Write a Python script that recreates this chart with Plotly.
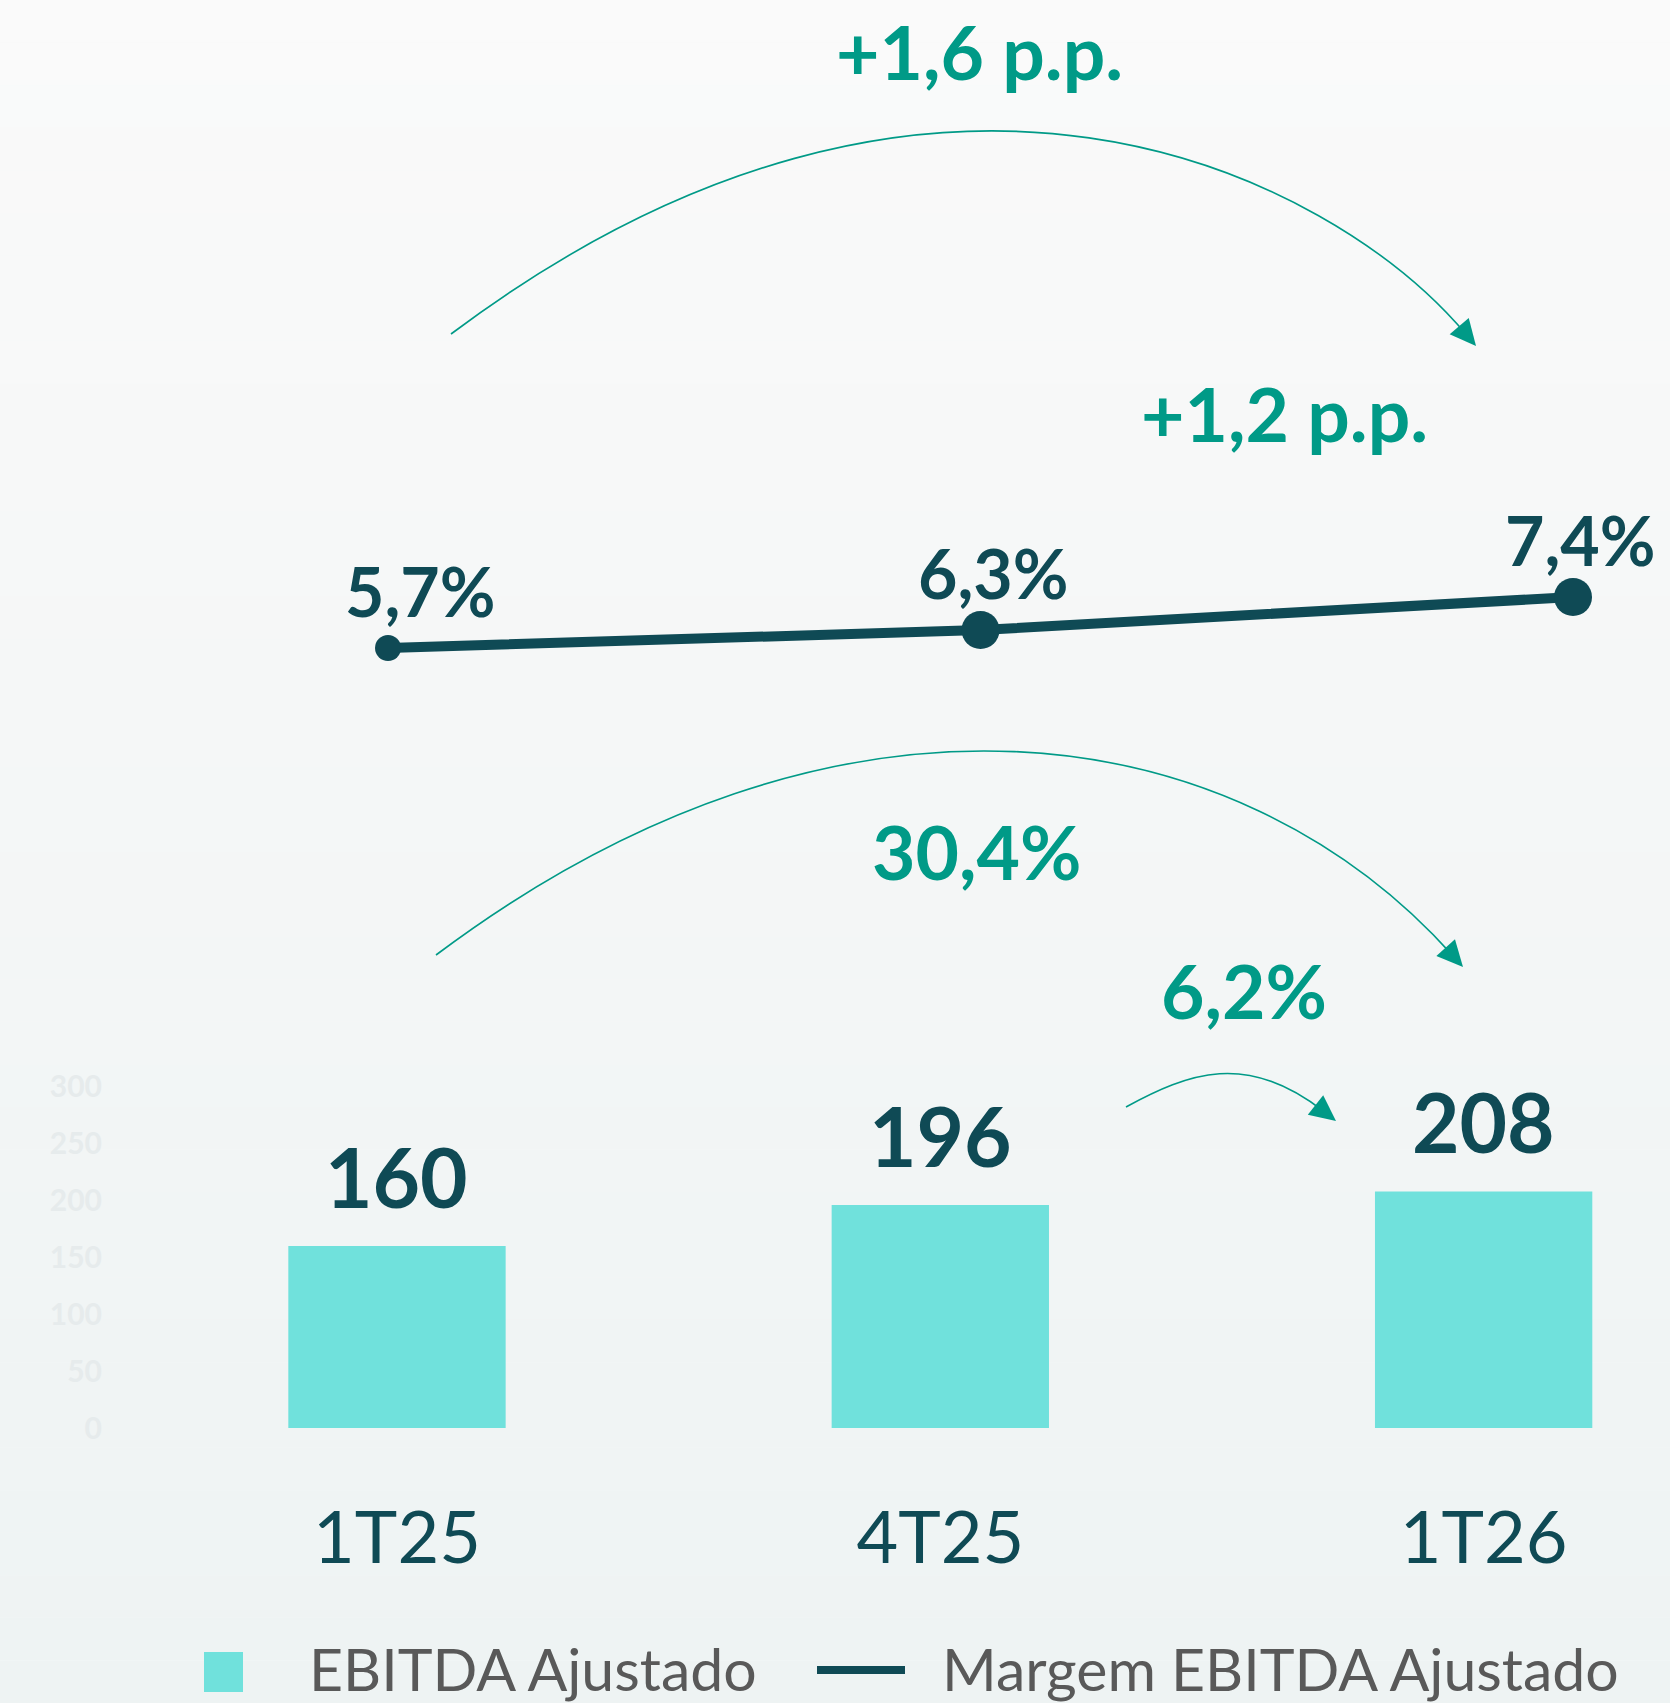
import numpy as np
import plotly.graph_objects as go

W, H = 1670, 1703

# data
trimestres = ["1T25", "4T25", "1T26"]
ebitda_ajustado = [160, 196, 208]
margem_ebitda = [5.7, 6.3, 7.4]
margem_labels = ["5,7%", "6,3%", "7,4%"]
ebitda_ticks = [0, 50, 100, 150, 200, 250, 300]
variacao_margem_1t = "+1,6 p.p."
variacao_margem_4t = "+1,2 p.p."
variacao_ebitda_1t = "30,4%"
variacao_ebitda_4t = "6,2%"
legend_labels = ["EBITDA Ajustado", "Margem EBITDA Ajustado"]

DARK = "#0f4a55"
GREEN = "#009a87"
BAR = "#70e1dc"
GREY = "#595959"
FONT = "Lato"


def px(x):
    return x / W


def py(y):
    return 1 - y / H


def pt(p):
    return f"{px(p[0]):.5f},{py(p[1]):.5f}"


def arc_shapes(p0, p3, d0, d3, peak, head_len=26, head_w=25):
    # cubic curve leaving p0 along d0, arriving at p3 along d3, whose top lands near `peak`
    p0, p3, peak = np.array(p0, float), np.array(p3, float), np.array(peak, float)
    d0 = np.array(d0, float) / np.linalg.norm(d0)
    d3 = np.array(d3, float) / np.linalg.norm(d3)
    span = np.linalg.norm(p3 - p0)
    a = np.linspace(0.05, 1.2, 116)[:, None, None] * span
    b = np.linspace(0.05, 1.2, 116)[None, :, None] * span
    t = np.linspace(0, 1, 201)[None, None, :]
    coords = []
    for k in range(2):
        c1 = p0[k] + a * d0[k]
        c2 = p3[k] - b * d3[k]
        coords.append((1 - t) ** 3 * p0[k] + 3 * t * (1 - t) ** 2 * c1
                      + 3 * t ** 2 * (1 - t) * c2 + t ** 3 * p3[k])
    x, y = coords
    idx = np.argmin(y, axis=2)[..., None]
    top_x = np.take_along_axis(x, idx, axis=2)[..., 0]
    top_y = np.take_along_axis(y, idx, axis=2)[..., 0]
    err = (top_x - peak[0]) ** 2 + (top_y - peak[1]) ** 2
    i, j = np.unravel_index(np.argmin(err), err.shape)
    c1 = p0 + a[i, 0, 0] * d0
    c2 = p3 - b[0, j, 0] * d3
    curve = dict(type="path", xref="paper", yref="paper",
                 path=f"M{pt(p0)} C{pt(c1)} {pt(c2)} {pt(p3 - d3 * head_len * 0.6)}",
                 line=dict(color=GREEN, width=1.6))
    base = p3 - d3 * head_len
    n = np.array([-d3[1], d3[0]])
    head = dict(type="path", xref="paper", yref="paper",
                path=f"M{pt(p3)} L{pt(base + n * head_w / 2)} L{pt(base - n * head_w / 2)} Z",
                fillcolor=GREEN, line=dict(width=0))
    return [curve, head]


fig = go.Figure()

fig.add_trace(go.Bar(
    x=trimestres, y=ebitda_ajustado, name=legend_labels[0],
    marker=dict(color=BAR, line=dict(width=0)), width=0.4,
    xaxis="x", yaxis="y", showlegend=False,
))

fig.add_trace(go.Scatter(
    x=trimestres, y=margem_ebitda, name=legend_labels[1],
    mode="lines+markers", line=dict(color=DARK, width=10),
    marker=dict(color=DARK, size=[26, 38, 38], opacity=1, line=dict(width=0)),
    xaxis="x2", yaxis="y2", showlegend=False,
))

annotations = []
for cat, v in zip(trimestres, ebitda_ajustado):
    annotations.append(dict(
        x=cat, y=v, xref="x", yref="y", text=str(v), showarrow=False,
        yanchor="middle", yshift=70,
        font=dict(family=FONT, size=82, color=DARK, weight=700),
    ))

for cat, v, lab, dx in zip(trimestres, margem_ebitda, margem_labels, [32, 13, 7]):
    annotations.append(dict(
        x=cat, y=v, xref="x2", yref="y2", text=lab, showarrow=False,
        yanchor="middle", yshift=58, xshift=dx,
        font=dict(family=FONT, size=68, color=DARK, weight=700),
    ))

for txt, (x, y) in [(variacao_margem_1t, (980, 51)), (variacao_margem_4t, (1284, 413)),
                    (variacao_ebitda_1t, (977, 851)), (variacao_ebitda_4t, (1244, 990))]:
    annotations.append(dict(
        x=px(x), y=py(y), xref="paper", yref="paper", text=txt, showarrow=False,
        xanchor="center", yanchor="middle",
        font=dict(family=FONT, size=75, color=GREEN, weight=700),
    ))

# legend (drawn by hand to get the large symbols)
annotations.append(dict(x=px(307), y=py(1668), xref="paper", yref="paper", text=legend_labels[0],
                        showarrow=False, xanchor="left", yanchor="middle",
                        font=dict(family=FONT, size=59, color=GREY)))
annotations.append(dict(x=px(940), y=py(1668), xref="paper", yref="paper", text=legend_labels[1],
                        showarrow=False, xanchor="left", yanchor="middle",
                        font=dict(family=FONT, size=59, color=GREY)))

shapes = []
# soft vertical background gradient
top, bottom = np.array([250, 250, 250]), np.array([238, 243, 243])
n_bands = 40
for i in range(n_bands):
    c = top + (bottom - top) * i / (n_bands - 1)
    shapes.append(dict(type="rect", xref="paper", yref="paper", layer="below",
                       x0=0, x1=1, y0=1 - (i + 1) / n_bands, y1=1 - i / n_bands,
                       fillcolor=f"rgb({c[0]:.0f},{c[1]:.0f},{c[2]:.0f})", line=dict(width=0)))

shapes += arc_shapes((451, 334), (1476, 346), (0.8, -0.6), (16.5, 19.5), (991, 131))
shapes += arc_shapes((436, 955), (1463, 967), (0.8, -0.6), (17, 19), (977, 752))
shapes += arc_shapes((1126, 1107), (1336, 1121), (0.879, -0.477), (20.5, 16), (1225, 1075))

shapes.append(dict(type="rect", xref="paper", yref="paper",
                   x0=px(204), x1=px(243), y0=py(1692), y1=py(1652),
                   fillcolor=BAR, line=dict(width=0)))
shapes.append(dict(type="line", xref="paper", yref="paper",
                   x0=px(817), x1=px(905), y0=py(1670), y1=py(1670),
                   line=dict(color=DARK, width=8)))

fig.update_layout(
    width=W, height=H, autosize=False,
    margin=dict(l=0, r=0, t=0, b=0, pad=0),
    paper_bgcolor="#f6f8f8", plot_bgcolor="rgba(0,0,0,0)",
    font=dict(family=FONT, color=DARK),
    showlegend=False,
    annotations=annotations, shapes=shapes,
    xaxis=dict(domain=[px(115), 1], type="category", range=[-0.519, 2.343],
               showgrid=False, zeroline=False, showline=False, ticks="", automargin=False,
               tickfont=dict(family=FONT, size=72, color=DARK), ticklabelstandoff=62),
    yaxis=dict(domain=[py(1428), py(1040)], range=[0, 341.2], tickvals=ebitda_ticks,
               showgrid=False, zeroline=False, showline=False, ticks="", automargin=False,
               tickfont=dict(family=FONT, size=30, color="#e6ebec", weight=700),
               ticklabelstandoff=12),
    xaxis2=dict(domain=[0, 1], anchor="y2", type="category", range=[-0.6549, 2.1637],
                visible=False, automargin=False),
    yaxis2=dict(domain=[py(760), py(440)], anchor="x2", range=[1.967, 12.633],
                visible=False, automargin=False),
)

fig.write_html(
    "out.html",
    config={"displayModeBar": False},
    post_script="document.body.style.margin = '0'; document.body.style.overflow = 'hidden';",
)
